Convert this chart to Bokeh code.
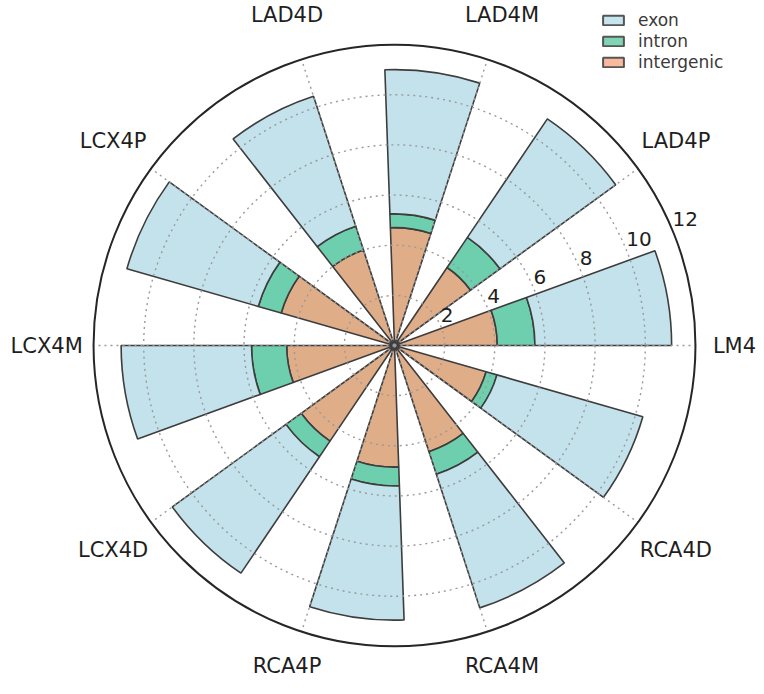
import numpy as np
from bokeh.plotting import figure
from bokeh.models import Range1d, Legend, LegendItem, ColumnDataSource
from bokeh.embed import file_html
from bokeh.resources import INLINE
from bokeh.core.properties import value

# ---- data ----
categories = ["LM4", "LAD4P", "LAD4M", "LAD4D", "LCX4P",
              "LCX4M", "LCX4D", "RCA4P", "RCA4M", "RCA4D"]
intergenic = [4.1, 3.75, 4.7, 4.0, 4.7, 4.3, 4.6, 4.85, 4.45, 3.8]
intron = [1.5, 1.45, 0.55, 1.0, 0.95, 1.4, 0.75, 0.75, 0.95, 0.45]
exon = [5.45, 5.7, 5.75, 5.45, 5.45, 5.2, 5.6, 5.35, 5.6, 6.05]
r_ticks = [2, 4, 6, 8, 10, 12]
r_tick_labels = ["2", "4", "6", "8", "10", "12"]
r_max = 12

# ---- layout ----
W, H = 756, 678
PX = 25.08            # pixels per radial unit
CX, CY = 394, 345     # centre in figure pixels (from top-left)

x0, x1 = -CX / PX, (W - CX) / PX
y0, y1 = -(H - CY) / PX, CY / PX
p = figure(width=W, height=H, output_backend="svg", toolbar_location=None,
           x_range=Range1d(x0, x1), y_range=Range1d(y0, y1), min_border=0)
p.axis.visible = False
p.grid.visible = False
p.outline_line_color = None
p.background_fill_color = "white"

n = len(categories)
theta = np.arange(n) * 2 * np.pi / n
bar_w = np.deg2rad(20)

s1 = np.array(intergenic)
s2 = s1 + np.array(intron)
s3 = s2 + np.array(exon)

edge = "#3d3d3d"
series = [
    ("intergenic", np.zeros(n), s1, "#e0ad89"),
    ("intron", s1, s2, "#6ecfae"),
    ("exon", s2, s3, "#c3e2eb"),
]
for name, inner, outer, col in series:
    src = ColumnDataSource(dict(inner=inner, outer=outer,
                                start=theta, end=theta + bar_w))
    p.annular_wedge(x=0, y=0, inner_radius="inner", outer_radius="outer",
                    start_angle="start", end_angle="end", source=src,
                    fill_color=col, line_color=edge, line_width=1.6)

# ---- grid (drawn over bars) ----
grid_col = "#9a9a9a"
for r in r_ticks[:-1]:
    p.circle(x=0, y=0, radius=r, fill_color=None, line_color=grid_col,
             line_width=1.4, line_dash="2 4")
p.segment(x0=0, y0=0, x1=r_max * np.cos(theta), y1=r_max * np.sin(theta),
          line_color=grid_col, line_width=1.4, line_dash="2 4")
p.circle(x=0, y=0, radius=r_max, fill_color=None, line_color="#262626",
         line_width=2)

# ---- radial tick labels ----
ang = np.deg2rad(22.5)
rt = np.array(r_ticks, dtype=float)
p.text(x=rt * np.cos(ang), y=rt * np.sin(ang) + 0.16,
       text=r_tick_labels, text_align="left", text_baseline="bottom",
       text_font=value("DejaVu Sans"), text_font_size="20px",
       text_color="#1e1e1e")

# ---- category labels (kept inside the canvas) ----
rl = 13.87
lx = np.minimum(rl * np.cos(theta), x1 - 22 / PX)
ly = np.maximum(rl * np.sin(theta), y0 + 12.5 / PX)
p.text(x=lx, y=ly, text=categories,
       text_align="center", text_baseline="middle",
       text_font=value("DejaVu Sans"), text_font_size="21px",
       text_color="#1e1e1e")

# ---- legend ----
leg_cols = [("exon", "#c6e5ee"), ("intron", "#7fd5b6"),
            ("intergenic", "#f8b99c")]
items = []
for lab, col in leg_cols:
    rr = p.rect(x=[np.nan], y=[np.nan], width=1, height=1, fill_color=col,
                line_color="#555555", line_width=2)
    items.append(LegendItem(label=lab, renderers=[rr]))
legend = Legend(items=items, location=(600, 606), glyph_width=26,
                glyph_height=12, label_standoff=12, label_height=18,
                spacing=1, padding=0, margin=0, border_line_color=None,
                background_fill_alpha=0, label_text_font_size="17px",
                label_text_font="DejaVu Sans", label_text_color="#3a3a3a")
p.add_layout(legend)

open("out.html", "w").write(file_html(p, INLINE))
